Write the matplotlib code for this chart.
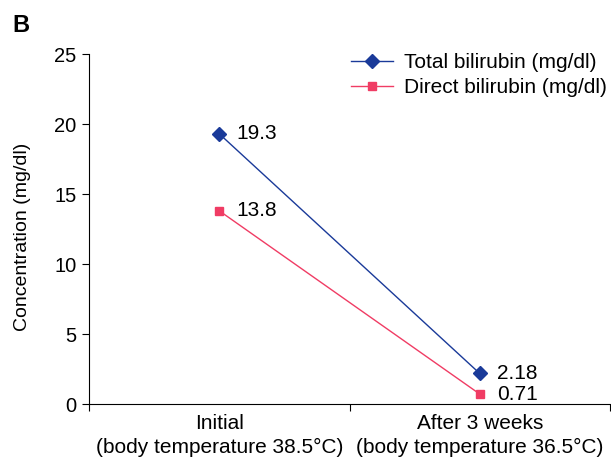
import matplotlib
matplotlib.use("Agg")
import matplotlib.pyplot as plt

categories = ["Initial\n(body temperature 38.5\u00b0C)", "After 3 weeks\n(body temperature 36.5\u00b0C)"]
total_bilirubin = [19.3, 2.18]
direct_bilirubin = [13.8, 0.71]
total_labels = ["19.3", "2.18"]
direct_labels = ["13.8", "0.71"]

plt.rcParams['font.family'] = ['Liberation Sans', 'DejaVu Sans']

fig = plt.figure(figsize=(6.11, 4.61), dpi=100)
ax = fig.add_axes([89/611, 57/461, (610-89)/611, (404-54)/461])

xpos = [0.5, 1.5]
blue = "#1a3a99"
pink = "#f03c64"
ax.plot(xpos, total_bilirubin, color=blue, lw=1.0, marker="D", ms=7,
        label="Total bilirubin (mg/dl)")
ax.plot(xpos, direct_bilirubin, color=pink, lw=1.0, marker="s", ms=6,
        label="Direct bilirubin (mg/dl)")

for x, y, t in zip(xpos, total_bilirubin, total_labels):
    ax.annotate(t, (x, y), xytext=(12.5, 0), textcoords="offset points",
                va="center", ha="left", fontsize=15)
for x, y, t in zip(xpos, direct_bilirubin, direct_labels):
    ax.annotate(t, (x, y), xytext=(12.5, 0), textcoords="offset points",
                va="center", ha="left", fontsize=15)

ax.set_xlim(0, 2)
ax.set_ylim(0, 25)
ax.set_yticks([0, 5, 10, 15, 20, 25])
ax.set_xticks([0, 1, 2])
ax.set_xticklabels([])
ax.set_xticks(xpos, minor=True)
ax.set_xticklabels(categories, minor=True, fontsize=15, linespacing=1.35)
ax.tick_params(axis="x", which="minor", length=0, pad=7)
ax.tick_params(axis="x", which="major", length=5, direction="out")
ax.tick_params(axis="y", length=5, labelsize=14.5, pad=4)
ax.spines["top"].set_visible(False)
ax.spines["right"].set_visible(False)
ax.set_ylabel("Concentration (mg/dl)", fontsize=14)
ax.yaxis.set_label_coords(-(89 - 31) / 521, 0.477)

ax.legend(loc="upper left", bbox_to_anchor=(351/611, 1 - 53/461),
          bbox_transform=fig.transFigure, frameon=False,
          fontsize=15, handlelength=2.0, handletextpad=0.55, labelspacing=0.28,
          borderaxespad=0, borderpad=0)

fig.text(12/611, 1 - 26/461, "B", fontsize=17, fontweight="bold", va="center", ha="left")

fig.savefig("out.png", dpi=100)
